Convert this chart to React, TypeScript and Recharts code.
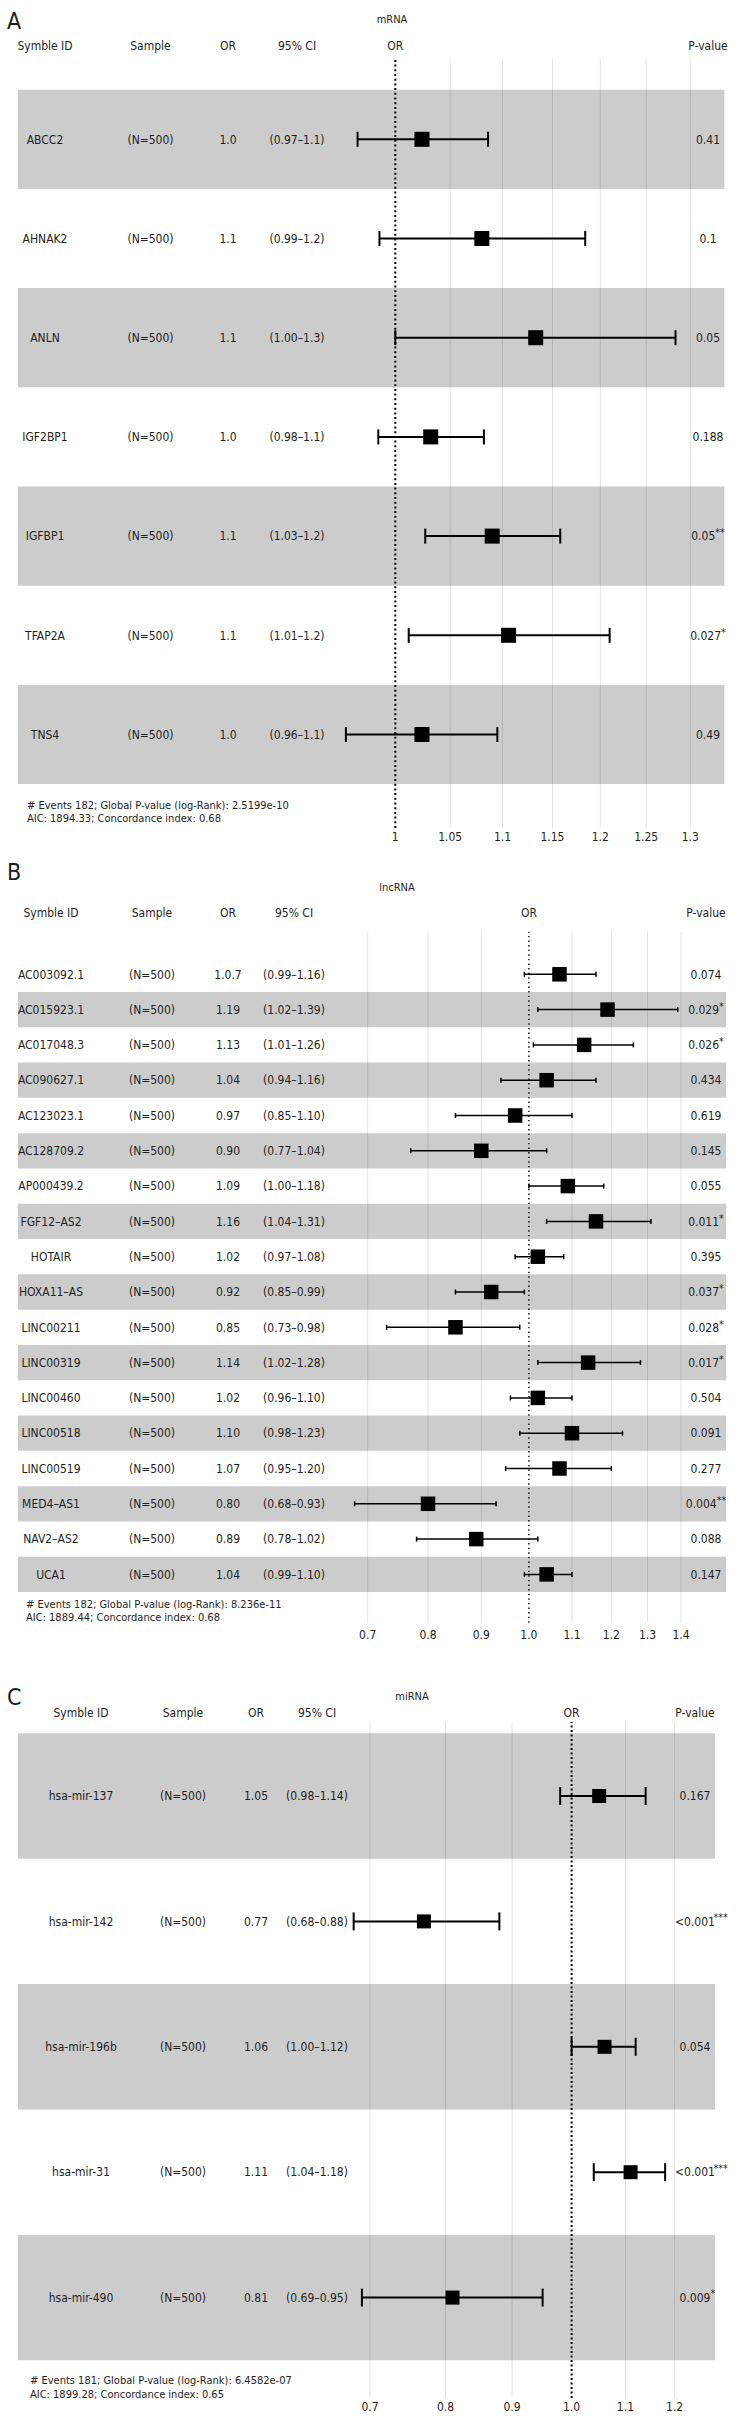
import React from 'react'
import {
  ScatterChart, Scatter, XAxis, YAxis, ErrorBar,
  ReferenceArea, ReferenceLine,
} from 'recharts'

const FONT = '"Liberation Sans Narrow", "DejaVu Sans Condensed", "Arial Narrow", sans-serif'
const INK = '#1e1e1e'
const BAND = '#cccccc'
const GRID = 'rgba(0,0,0,0.11)'

// ---- A: mRNA
const mrnaIds = ['ABCC2', 'AHNAK2', 'ANLN', 'IGF2BP1', 'IGFBP1', 'TFAP2A', 'TNS4']
const mrnaOrText = ['1.0', '1.1', '1.1', '1.0', '1.1', '1.1', '1.0']
const mrnaCiText = ['(0.97–1.1)', '(0.99–1.2)', '(1.00–1.3)', '(0.98–1.1)', '(1.03–1.2)', '(1.01–1.2)', '(0.96–1.1)']
const mrnaP = ['0.41', '0.1', '0.05', '0.188', '0.05', '0.027', '0.49']
const mrnaStars = ['', '', '', '', '**', '*', '']
const mrnaOr = [1.024, 1.080, 1.133, 1.032, 1.090, 1.106, 1.024]
const mrnaLo = [0.967, 0.986, 1.000, 0.985, 1.027, 1.012, 0.957]
const mrnaHi = [1.086, 1.184, 1.283, 1.082, 1.158, 1.210, 1.095]
const mrnaTicks = [1, 1.05, 1.1, 1.15, 1.2, 1.25, 1.3]
const mrnaTickLabels = ['1', '1.05', '1.1', '1.15', '1.2', '1.25', '1.3']

// ---- B: lncRNA
const lncIds = ['AC003092.1', 'AC015923.1', 'AC017048.3', 'AC090627.1', 'AC123023.1', 'AC128709.2', 'AP000439.2', 'FGF12–AS2', 'HOTAIR',
  'HOXA11–AS', 'LINC00211', 'LINC00319', 'LINC00460', 'LINC00518', 'LINC00519', 'MED4–AS1', 'NAV2–AS2', 'UCA1']
const lncOrText = ['1.0.7', '1.19', '1.13', '1.04', '0.97', '0.90', '1.09', '1.16', '1.02', '0.92', '0.85', '1.14', '1.02', '1.10', '1.07', '0.80', '0.89', '1.04']
const lncCiText = ['(0.99–1.16)', '(1.02–1.39)', '(1.01–1.26)', '(0.94–1.16)', '(0.85–1.10)', '(0.77–1.04)', '(1.00–1.18)', '(1.04–1.31)', '(0.97–1.08)',
  '(0.85–0.99)', '(0.73–0.98)', '(1.02–1.28)', '(0.96–1.10)', '(0.98–1.23)', '(0.95–1.20)', '(0.68–0.93)', '(0.78–1.02)', '(0.99–1.10)']
const lncP = ['0.074', '0.029', '0.026', '0.434', '0.619', '0.145', '0.055', '0.011', '0.395', '0.037', '0.028', '0.017', '0.504', '0.091', '0.277', '0.004', '0.088', '0.147']
const lncStars = ['', '*', '*', '', '', '', '', '*', '', '*', '*', '*', '', '', '', '**', '', '']
const lncOr = [1.07, 1.19, 1.13, 1.04, 0.97, 0.90, 1.09, 1.16, 1.02, 0.92, 0.85, 1.14, 1.02, 1.10, 1.07, 0.80, 0.89, 1.04]
const lncLo = [0.99, 1.02, 1.01, 0.94, 0.85, 0.77, 1.00, 1.04, 0.97, 0.85, 0.73, 1.02, 0.96, 0.98, 0.95, 0.68, 0.78, 0.99]
const lncHi = [1.16, 1.39, 1.26, 1.16, 1.10, 1.04, 1.18, 1.31, 1.08, 0.99, 0.98, 1.28, 1.10, 1.23, 1.20, 0.93, 1.02, 1.10]
const lncTicks = [0.7, 0.8, 0.9, 1.0, 1.1, 1.2, 1.3, 1.4]
const lncTickLabels = ['0.7', '0.8', '0.9', '1.0', '1.1', '1.2', '1.3', '1.4']

// ---- C: miRNA
const mirIds = ['hsa-mir-137', 'hsa-mir-142', 'hsa-mir-196b', 'hsa-mir-31', 'hsa-mir-490']
const mirOrText = ['1.05', '0.77', '1.06', '1.11', '0.81']
const mirCiText = ['(0.98–1.14)', '(0.68–0.88)', '(1.00–1.12)', '(1.04–1.18)', '(0.69–0.95)']
const mirP = ['0.167', '<0.001', '0.054', '<0.001', '0.009']
const mirStars = ['', '***', '', '***', '*']
const mirOr = [1.05, 0.77, 1.06, 1.11, 0.81]
const mirLo = [0.98, 0.68, 1.00, 1.04, 0.69]
const mirHi = [1.14, 0.88, 1.12, 1.18, 0.95]
const mirTicks = [0.7, 0.8, 0.9, 1.0, 1.1, 1.2]
const mirTickLabels = ['0.7', '0.8', '0.9', '1.0', '1.1', '1.2']

type Row = {
  y: number; id: string; orText: string; ciText: string
  p: string; stars: string; or: number; err: [number, number]; shaded: boolean
}

function buildRows(ids: string[], orText: string[], ciText: string[], p: string[], stars: string[],
  or: number[], lo: number[], hi: number[], shadeFirst: boolean): Row[] {
  return ids.map((id, i) => ({
    y: i, id, orText: orText[i], ciText: ciText[i], p: p[i], stars: stars[i],
    or: or[i], err: [or[i] - lo[i], hi[i] - or[i]],
    shaded: shadeFirst ? i % 2 === 0 : i % 2 === 1,
  }))
}

interface Panel {
  letter: string; title: string; titleX: number; titleY: number; letterY: number
  top: number; height: number
  plotTop: number; plotBottom: number; plotLeft: number; plotRight: number
  rowY0: number; rowPitch: number; xOne: number; pxPerLn: number
  headerY: number
  cols: { id: number; sample: number; or: number; ci: number; p: number }
  pMode: 'whole' | 'number'
  square: number; cap: number; whisker: number; dotW: number; dotDash: string
  tickMargin: number
  ticks: number[]; tickLabels: string[]
  footer: [string, string]; footerX: number; footerY: [number, number]
  rows: Row[]
}

const panels: Panel[] = [
  {
    letter: 'A', title: 'mRNA', titleX: 392, titleY: 19, letterY: 21,
    top: 0, height: 850, plotTop: 59, plotBottom: 828, plotLeft: 18, plotRight: 724.3,
    rowY0: 139.3, rowPitch: 99.2, xOne: 395.3, pxPerLn: 1124.4, headerY: 46,
    cols: { id: 45, sample: 150.5, or: 228, ci: 297, p: 708 }, pMode: 'whole',
    square: 15, cap: 7.5, whisker: 2, dotW: 2, dotDash: '2 2.7', tickMargin: 4,
    ticks: mrnaTicks, tickLabels: mrnaTickLabels,
    footer: ['# Events 182; Global P-value (log-Rank): 2.5199e-10', 'AIC: 1894.33; Concordance index: 0.68'],
    footerX: 27, footerY: [805, 817.5],
    rows: buildRows(mrnaIds, mrnaOrText, mrnaCiText, mrnaP, mrnaStars, mrnaOr, mrnaLo, mrnaHi, true),
  },
  {
    letter: 'B', title: 'lncRNA', titleX: 397, titleY: 887, letterY: 872,
    top: 850, height: 800, plotTop: 931.7, plotBottom: 1622.7, plotLeft: 18, plotRight: 726,
    rowY0: 974.3, rowPitch: 35.3, xOne: 528.9, pxPerLn: 452, headerY: 912.7,
    cols: { id: 51, sample: 152, or: 228, ci: 294, p: 706 }, pMode: 'whole',
    square: 14.5, cap: 2.5, whisker: 1.5, dotW: 1.4, dotDash: '1.4 3.2', tickMargin: 8,
    ticks: lncTicks, tickLabels: lncTickLabels,
    footer: ['# Events 182; Global P-value (log-Rank): 8.236e-11', 'AIC: 1889.44; Concordance index: 0.68'],
    footerX: 26, footerY: [1603.5, 1617],
    rows: buildRows(lncIds, lncOrText, lncCiText, lncP, lncStars, lncOr, lncLo, lncHi, false),
  },
  {
    letter: 'C', title: 'miRNA', titleX: 412, titleY: 1696, letterY: 1697,
    top: 1650, height: 774, plotTop: 1722, plotBottom: 2398, plotLeft: 18, plotRight: 715,
    rowY0: 1796, rowPitch: 125.4, xOne: 571.6, pxPerLn: 565.1, headerY: 1713,
    cols: { id: 81, sample: 183, or: 256, ci: 317, p: 695 }, pMode: 'number',
    square: 14, cap: 9, whisker: 2, dotW: 2, dotDash: '2 2.5', tickMargin: 4.5,
    ticks: mirTicks, tickLabels: mirTickLabels,
    footer: ['# Events 181; Global P-value (log-Rank): 6.4582e-07', 'AIC: 1899.28; Concordance index: 0.65'],
    footerX: 30, footerY: [2380, 2393.5],
    rows: buildRows(mirIds, mirOrText, mirCiText, mirP, mirStars, mirOr, mirLo, mirHi, true),
  },
]

function Txt({ x, y, size = 12, anchor = 'middle', children }:
  { x: number; y: number; size?: number; anchor?: 'start' | 'middle'; children: React.ReactNode }) {
  return (
    <div style={{
      position: 'absolute', left: x, top: y,
      transform: `translate(${anchor === 'middle' ? '-50%' : '0'}, -50%)`,
      fontSize: size, lineHeight: 1, whiteSpace: 'nowrap', color: INK, fontFamily: FONT,
    }}>
      {children}
    </div>
  )
}

function Forest({ p }: { p: Panel }) {
  const axisH = 20
  const xDomain = [
    Math.exp((p.plotLeft - p.xOne) / p.pxPerLn),
    Math.exp((p.plotRight - p.xOne) / p.pxPerLn),
  ]
  const yDomain = [(p.plotTop - p.rowY0) / p.rowPitch, (p.plotBottom - p.rowY0) / p.rowPitch]
  const margin = {
    top: p.plotTop - p.top,
    bottom: p.top + p.height - p.plotBottom - axisH,
    left: p.plotLeft,
    right: 744 - p.plotRight,
  }
  const c = p.cols

  const rowShape = (props: any) => {
    const { cx, cy, payload } = props
    const s = p.square
    const t = { fontSize: 12, fill: INK, fontFamily: FONT, textAnchor: 'middle' as const, dy: '0.35em' }
    return (
      <g>
        <rect x={cx - s / 2} y={cy - s / 2} width={s} height={s} fill="#000" />
        <text x={c.id} y={cy} {...t}>{payload.id}</text>
        <text x={c.sample} y={cy} {...t}>(N=500)</text>
        <text x={c.or} y={cy} {...t}>{payload.orText}</text>
        <text x={c.ci} y={cy} {...t}>{payload.ciText}</text>
        {p.pMode === 'whole' ? (
          <text x={c.p} y={cy} {...t}>
            {payload.p}
            {payload.stars && <tspan fontSize={10.5} dy={-4}>{payload.stars}</tspan>}
          </text>
        ) : (
          <>
            <text x={c.p} y={cy} {...t}>{payload.p}</text>
            {payload.stars && (
              <text x={c.p + payload.p.length * 3.1} y={cy - 4} fontSize={10.5} fill={INK}
                fontFamily={FONT} textAnchor="start" dy="0.35em">{payload.stars}</text>
            )}
          </>
        )}
      </g>
    )
  }

  return (
    <div style={{ position: 'absolute', left: 0, top: p.top }}>
      <ScatterChart width={744} height={p.height} margin={margin}>
        <XAxis
          dataKey="or" type="number" scale="log" domain={xDomain}
          ticks={p.ticks} interval={0}
          tickFormatter={(_v: number, i: number) => p.tickLabels[i]}
          axisLine={false} tickLine={false} tickSize={0} tickMargin={p.tickMargin}
          height={axisH}
          tick={{ fill: INK, fontSize: 12, fontFamily: FONT }}
        />
        <YAxis dataKey="y" type="number" domain={yDomain} reversed hide />
        {p.rows.filter(r => r.shaded).map(r => (
          <ReferenceArea key={r.id} y1={r.y - 0.5} y2={r.y + 0.5} fill={BAND} fillOpacity={1} stroke="none" />
        ))}
        {p.ticks.filter(t => t !== 1).map(t => (
          <ReferenceLine key={t} x={t} stroke={GRID} strokeWidth={1} />
        ))}
        <ReferenceLine x={1} stroke="#000" strokeWidth={p.dotW} strokeDasharray={p.dotDash} />
        <Scatter data={p.rows} shape={rowShape} isAnimationActive={false}>
          <ErrorBar dataKey="err" direction="x" width={p.cap} stroke="#000" strokeWidth={p.whisker} />
        </Scatter>
      </ScatterChart>
    </div>
  )
}

function Labels({ p }: { p: Panel }) {
  const c = p.cols
  return (
    <>
      <Txt x={7} y={p.letterY} size={23} anchor="start">{p.letter}</Txt>
      <Txt x={p.titleX} y={p.titleY} size={11}>{p.title}</Txt>
      <Txt x={c.id} y={p.headerY}>Symble ID</Txt>
      <Txt x={c.sample} y={p.headerY}>Sample</Txt>
      <Txt x={c.or} y={p.headerY}>OR</Txt>
      <Txt x={c.ci} y={p.headerY}>95% CI</Txt>
      <Txt x={p.xOne} y={p.headerY}>OR</Txt>
      <Txt x={c.p} y={p.headerY}>P-value</Txt>
      <Txt x={p.footerX} y={p.footerY[0]} size={11} anchor="start">{p.footer[0]}</Txt>
      <Txt x={p.footerX} y={p.footerY[1]} size={11} anchor="start">{p.footer[1]}</Txt>
    </>
  )
}

export default function App() {
  return (
    <div style={{ position: 'absolute', left: 0, top: 0, width: 744, height: 2424, background: '#fff', fontFamily: FONT }}>
      {panels.map(p => <Forest key={p.letter} p={p} />)}
      {panels.map(p => <Labels key={p.letter} p={p} />)}
    </div>
  )
}
